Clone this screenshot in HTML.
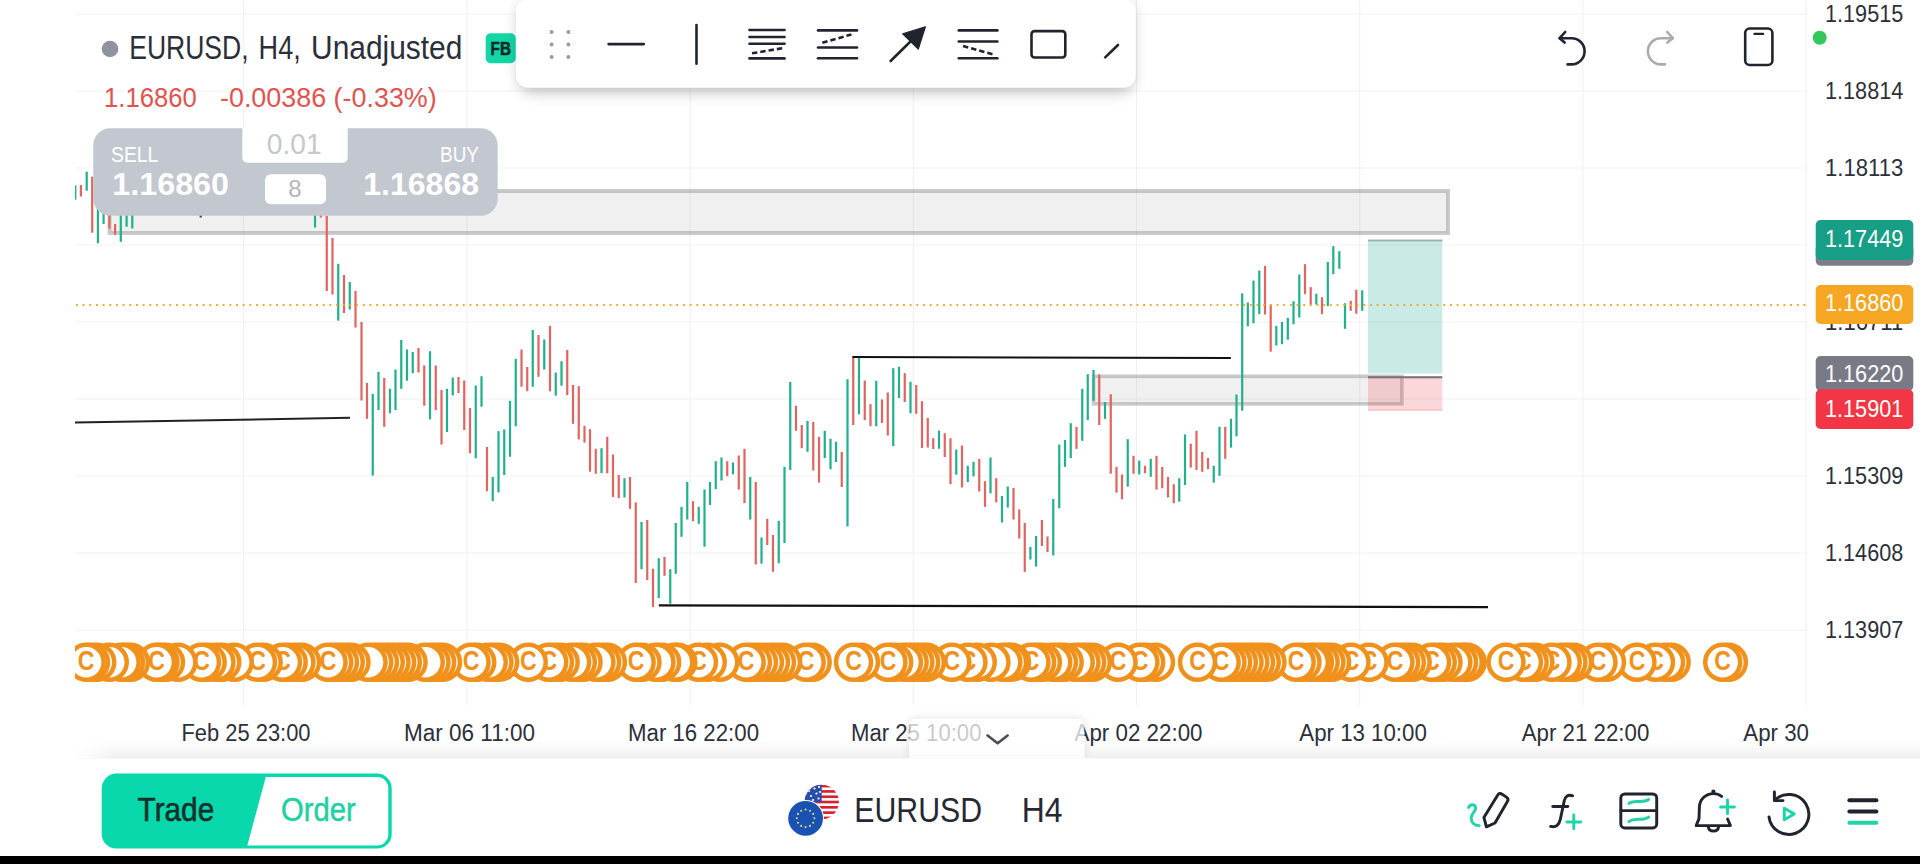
<!DOCTYPE html>
<html><head><meta charset="utf-8"><title>EURUSD H4</title>
<style>html,body{margin:0;padding:0;background:#fff;}body{width:1920px;height:864px;overflow:hidden;position:relative;font-family:"Liberation Sans", sans-serif;}svg{position:absolute;left:0;top:0;display:block;}text{font-family:"Liberation Sans", sans-serif;}</style>
</head><body>
<svg width="1920" height="864" viewBox="0 0 1920 864">
<defs>
<clipPath id="chartclip"><rect x="75" y="0" width="1732" height="705"/></clipPath>
<clipPath id="coinclip"><rect x="75" y="630" width="1732" height="70"/></clipPath>
<linearGradient id="botshadow" x1="0" y1="0" x2="0" y2="1"><stop offset="0" stop-color="#000" stop-opacity="0"/><stop offset="1" stop-color="#000" stop-opacity="0.06"/></linearGradient>
<linearGradient id="leftfade" x1="0" y1="0" x2="1" y2="0"><stop offset="0" stop-color="#fff" stop-opacity="1"/><stop offset="1" stop-color="#fff" stop-opacity="0"/></linearGradient>
<filter id="tbshadow" x="-5%" y="-30%" width="110%" height="180%"><feGaussianBlur stdDeviation="7"/></filter>
<clipPath id="usclip"><circle cx="821.7" cy="802" r="17.2"/></clipPath>
<filter id="tabshadow" x="-10%" y="-40%" width="120%" height="180%"><feGaussianBlur stdDeviation="4"/></filter>
<clipPath id="tabout"><path clip-rule="evenodd" d="M880 700 H1115 V758.5 H880 Z M909.3 758.5 V724.8 a6 6 0 0 1 6 -6 H1078.4 a6 6 0 0 1 6 6 V758.5 Z"/></clipPath>
</defs>
<g stroke="#f1f1f1" stroke-width="1.1">
<line x1="75" y1="14" x2="1807" y2="14"/>
<line x1="75" y1="91" x2="1807" y2="91"/>
<line x1="75" y1="168" x2="1807" y2="168"/>
<line x1="75" y1="245" x2="1807" y2="245"/>
<line x1="75" y1="322" x2="1807" y2="322"/>
<line x1="75" y1="399" x2="1807" y2="399"/>
<line x1="75" y1="476" x2="1807" y2="476"/>
<line x1="75" y1="553" x2="1807" y2="553"/>
<line x1="75" y1="630" x2="1807" y2="630"/>
<line x1="243.7" y1="0" x2="243.7" y2="705"/>
<line x1="466.9" y1="0" x2="466.9" y2="705"/>
<line x1="690.1" y1="0" x2="690.1" y2="705"/>
<line x1="913.3" y1="0" x2="913.3" y2="705"/>
<line x1="1136.5" y1="0" x2="1136.5" y2="705"/>
<line x1="1359.7" y1="0" x2="1359.7" y2="705"/>
<line x1="1582.9" y1="0" x2="1582.9" y2="705"/>
<line x1="1806.1" y1="0" x2="1806.1" y2="705"/>
</g>
<g clip-path="url(#chartclip)">
<rect x="109.5" y="191" width="1338.5" height="42" fill="#9a9a9a" fill-opacity="0.15" stroke="#8c8c8c" stroke-opacity="0.45" stroke-width="4"/>
<rect x="1093.5" y="376.3" width="308.4" height="27.6" fill="#9a9a9a" fill-opacity="0.15" stroke="#8c8c8c" stroke-opacity="0.45" stroke-width="3.6"/>
<rect x="1368" y="240" width="74.3" height="133.5" fill="#22ab94" fill-opacity="0.24"/>
<rect x="1368" y="239.5" width="74.3" height="2" fill="#8fa5a2" fill-opacity="0.8"/>
<rect x="1368" y="378" width="74.3" height="32.8" fill="#f23645" fill-opacity="0.2"/>
<rect x="1368" y="409" width="74.3" height="1.8" fill="#f23645" fill-opacity="0.12"/>
<rect x="1368" y="376.2" width="74.3" height="2.1" fill="#7a7077"/>
<rect x="74.20" y="185.5" width="2.2" height="14.1" fill="#20b08c"/>
<rect x="79.80" y="185.0" width="2.2" height="11.5" fill="#e0645f"/>
<rect x="85.60" y="171.7" width="2.2" height="19.0" fill="#20b08c"/>
<rect x="91.10" y="176.7" width="2.2" height="56.0" fill="#e0645f"/>
<rect x="96.80" y="200.0" width="2.2" height="43.3" fill="#20b08c"/>
<rect x="102.50" y="200.0" width="2.2" height="24.0" fill="#20b08c"/>
<rect x="108.30" y="200.0" width="2.2" height="28.5" fill="#e0645f"/>
<rect x="114.00" y="224.0" width="2.2" height="10.8" fill="#e0645f"/>
<rect x="119.70" y="200.0" width="2.2" height="41.8" fill="#20b08c"/>
<rect x="125.50" y="200.0" width="2.2" height="26.7" fill="#20b08c"/>
<rect x="131.20" y="200.0" width="2.2" height="28.5" fill="#20b08c"/>
<rect x="199.60" y="214.0" width="2.2" height="3.5" fill="#444"/>
<rect x="313.90" y="200.0" width="2.2" height="27.5" fill="#20b08c"/>
<rect x="319.70" y="200.0" width="2.2" height="17.5" fill="#e0645f"/>
<rect x="325.65" y="216.0" width="2.2" height="75.0" fill="#e0645f"/>
<rect x="331.40" y="238.0" width="2.2" height="56.5" fill="#e0645f"/>
<rect x="337.15" y="263.8" width="2.2" height="56.8" fill="#20b08c"/>
<rect x="342.90" y="275.0" width="2.2" height="38.0" fill="#e0645f"/>
<rect x="348.65" y="282.0" width="2.2" height="27.5" fill="#20b08c"/>
<rect x="354.40" y="291.0" width="2.2" height="36.5" fill="#e0645f"/>
<rect x="360.40" y="322.0" width="2.2" height="78.5" fill="#e0645f"/>
<rect x="365.90" y="383.0" width="2.2" height="35.8" fill="#e0645f"/>
<rect x="371.65" y="393.8" width="2.2" height="81.8" fill="#20b08c"/>
<rect x="377.40" y="371.8" width="2.2" height="38.2" fill="#20b08c"/>
<rect x="383.15" y="378.0" width="2.2" height="48.8" fill="#e0645f"/>
<rect x="388.90" y="388.8" width="2.2" height="24.5" fill="#20b08c"/>
<rect x="394.40" y="369.5" width="2.2" height="40.5" fill="#20b08c"/>
<rect x="400.15" y="340.0" width="2.2" height="48.8" fill="#20b08c"/>
<rect x="405.90" y="349.5" width="2.2" height="31.2" fill="#20b08c"/>
<rect x="411.65" y="352.0" width="2.2" height="21.2" fill="#20b08c"/>
<rect x="417.40" y="348.0" width="2.2" height="24.5" fill="#e0645f"/>
<rect x="423.15" y="365.5" width="2.2" height="40.2" fill="#e0645f"/>
<rect x="428.90" y="351.2" width="2.2" height="68.2" fill="#20b08c"/>
<rect x="434.65" y="365.5" width="2.2" height="44.5" fill="#e0645f"/>
<rect x="440.40" y="390.0" width="2.2" height="54.5" fill="#e0645f"/>
<rect x="445.90" y="388.8" width="2.2" height="43.2" fill="#20b08c"/>
<rect x="451.65" y="377.5" width="2.2" height="18.0" fill="#20b08c"/>
<rect x="457.40" y="377.0" width="2.2" height="16.0" fill="#e0645f"/>
<rect x="463.15" y="380.5" width="2.2" height="49.5" fill="#e0645f"/>
<rect x="468.90" y="408.0" width="2.2" height="45.2" fill="#e0645f"/>
<rect x="474.65" y="385.5" width="2.2" height="72.8" fill="#20b08c"/>
<rect x="480.40" y="376.2" width="2.2" height="30.5" fill="#20b08c"/>
<rect x="485.90" y="447.0" width="2.2" height="44.2" fill="#e0645f"/>
<rect x="491.65" y="477.0" width="2.2" height="24.2" fill="#20b08c"/>
<rect x="497.40" y="431.2" width="2.2" height="61.2" fill="#20b08c"/>
<rect x="503.15" y="429.5" width="2.2" height="45.5" fill="#20b08c"/>
<rect x="508.90" y="400.8" width="2.2" height="56.0" fill="#20b08c"/>
<rect x="514.65" y="358.8" width="2.2" height="67.5" fill="#20b08c"/>
<rect x="520.40" y="349.5" width="2.2" height="37.2" fill="#e0645f"/>
<rect x="526.15" y="367.0" width="2.2" height="24.2" fill="#e0645f"/>
<rect x="531.65" y="330.0" width="2.2" height="56.8" fill="#20b08c"/>
<rect x="537.40" y="335.0" width="2.2" height="41.8" fill="#e0645f"/>
<rect x="543.15" y="339.5" width="2.2" height="30.0" fill="#20b08c"/>
<rect x="548.90" y="325.8" width="2.2" height="65.5" fill="#e0645f"/>
<rect x="554.65" y="372.5" width="2.2" height="23.2" fill="#20b08c"/>
<rect x="560.40" y="361.2" width="2.2" height="24.5" fill="#20b08c"/>
<rect x="566.15" y="350.0" width="2.2" height="45.0" fill="#e0645f"/>
<rect x="571.90" y="385.0" width="2.2" height="38.8" fill="#e0645f"/>
<rect x="577.65" y="386.2" width="2.2" height="53.2" fill="#e0645f"/>
<rect x="583.40" y="425.8" width="2.2" height="16.8" fill="#e0645f"/>
<rect x="588.90" y="429.2" width="2.2" height="42.5" fill="#e0645f"/>
<rect x="594.65" y="448.8" width="2.2" height="25.0" fill="#e0645f"/>
<rect x="600.40" y="448.2" width="2.2" height="25.0" fill="#20b08c"/>
<rect x="606.15" y="436.8" width="2.2" height="36.5" fill="#e0645f"/>
<rect x="611.90" y="454.5" width="2.2" height="42.5" fill="#e0645f"/>
<rect x="617.65" y="475.0" width="2.2" height="23.2" fill="#e0645f"/>
<rect x="623.40" y="478.2" width="2.2" height="19.2" fill="#20b08c"/>
<rect x="628.90" y="477.0" width="2.2" height="31.8" fill="#e0645f"/>
<rect x="634.65" y="502.5" width="2.2" height="80.5" fill="#e0645f"/>
<rect x="640.40" y="522.0" width="2.2" height="47.2" fill="#20b08c"/>
<rect x="646.15" y="520.0" width="2.2" height="60.0" fill="#e0645f"/>
<rect x="651.90" y="568.8" width="2.2" height="38.2" fill="#e0645f"/>
<rect x="657.65" y="558.2" width="2.2" height="40.0" fill="#20b08c"/>
<rect x="663.40" y="557.0" width="2.2" height="18.8" fill="#e0645f"/>
<rect x="669.15" y="569.2" width="2.2" height="34.5" fill="#20b08c"/>
<rect x="674.65" y="523.0" width="2.2" height="50.8" fill="#20b08c"/>
<rect x="680.40" y="507.0" width="2.2" height="29.8" fill="#20b08c"/>
<rect x="686.15" y="482.0" width="2.2" height="37.5" fill="#20b08c"/>
<rect x="691.90" y="501.2" width="2.2" height="20.0" fill="#e0645f"/>
<rect x="697.65" y="506.8" width="2.2" height="17.0" fill="#20b08c"/>
<rect x="703.40" y="489.5" width="2.2" height="57.2" fill="#20b08c"/>
<rect x="708.90" y="482.0" width="2.2" height="23.0" fill="#20b08c"/>
<rect x="714.65" y="461.2" width="2.2" height="28.0" fill="#20b08c"/>
<rect x="720.40" y="457.5" width="2.2" height="23.0" fill="#20b08c"/>
<rect x="726.15" y="461.2" width="2.2" height="15.0" fill="#e0645f"/>
<rect x="731.90" y="462.5" width="2.2" height="11.8" fill="#20b08c"/>
<rect x="737.65" y="455.5" width="2.2" height="34.0" fill="#e0645f"/>
<rect x="743.40" y="448.8" width="2.2" height="54.2" fill="#e0645f"/>
<rect x="749.15" y="477.0" width="2.2" height="42.5" fill="#20b08c"/>
<rect x="754.65" y="482.0" width="2.2" height="82.5" fill="#e0645f"/>
<rect x="760.40" y="537.5" width="2.2" height="26.2" fill="#20b08c"/>
<rect x="766.15" y="518.8" width="2.2" height="26.2" fill="#e0645f"/>
<rect x="771.90" y="535.0" width="2.2" height="36.8" fill="#e0645f"/>
<rect x="777.65" y="520.8" width="2.2" height="42.5" fill="#20b08c"/>
<rect x="783.40" y="466.8" width="2.2" height="76.2" fill="#20b08c"/>
<rect x="789.15" y="382.0" width="2.2" height="88.0" fill="#20b08c"/>
<rect x="794.90" y="405.8" width="2.2" height="25.0" fill="#e0645f"/>
<rect x="800.65" y="425.0" width="2.2" height="23.2" fill="#e0645f"/>
<rect x="806.40" y="421.0" width="2.2" height="30.8" fill="#20b08c"/>
<rect x="812.15" y="422.0" width="2.2" height="48.5" fill="#e0645f"/>
<rect x="817.90" y="436.8" width="2.2" height="45.8" fill="#e0645f"/>
<rect x="823.65" y="430.8" width="2.2" height="27.2" fill="#20b08c"/>
<rect x="829.40" y="438.8" width="2.2" height="30.5" fill="#20b08c"/>
<rect x="834.90" y="441.8" width="2.2" height="20.2" fill="#20b08c"/>
<rect x="840.65" y="452.0" width="2.2" height="35.0" fill="#e0645f"/>
<rect x="846.40" y="379.2" width="2.2" height="147.2" fill="#20b08c"/>
<rect x="852.15" y="356.2" width="2.2" height="68.8" fill="#e0645f"/>
<rect x="857.90" y="357.5" width="2.2" height="56.8" fill="#20b08c"/>
<rect x="863.65" y="380.5" width="2.2" height="39.5" fill="#e0645f"/>
<rect x="869.40" y="404.2" width="2.2" height="22.0" fill="#e0645f"/>
<rect x="875.15" y="380.8" width="2.2" height="45.5" fill="#20b08c"/>
<rect x="880.90" y="399.5" width="2.2" height="23.5" fill="#e0645f"/>
<rect x="886.65" y="392.5" width="2.2" height="43.0" fill="#e0645f"/>
<rect x="892.15" y="368.2" width="2.2" height="78.0" fill="#20b08c"/>
<rect x="897.90" y="366.8" width="2.2" height="31.2" fill="#20b08c"/>
<rect x="903.65" y="373.2" width="2.2" height="28.8" fill="#e0645f"/>
<rect x="909.40" y="381.8" width="2.2" height="31.5" fill="#20b08c"/>
<rect x="915.15" y="385.0" width="2.2" height="28.8" fill="#e0645f"/>
<rect x="920.90" y="401.2" width="2.2" height="46.8" fill="#e0645f"/>
<rect x="926.65" y="418.0" width="2.2" height="29.5" fill="#e0645f"/>
<rect x="932.15" y="438.2" width="2.2" height="10.8" fill="#e0645f"/>
<rect x="937.90" y="430.5" width="2.2" height="18.2" fill="#20b08c"/>
<rect x="943.65" y="433.2" width="2.2" height="23.8" fill="#e0645f"/>
<rect x="949.40" y="438.2" width="2.2" height="46.0" fill="#e0645f"/>
<rect x="955.15" y="449.5" width="2.2" height="25.2" fill="#20b08c"/>
<rect x="960.90" y="445.5" width="2.2" height="42.0" fill="#e0645f"/>
<rect x="966.65" y="465.8" width="2.2" height="16.2" fill="#20b08c"/>
<rect x="972.40" y="461.8" width="2.2" height="14.5" fill="#20b08c"/>
<rect x="978.15" y="459.0" width="2.2" height="32.5" fill="#e0645f"/>
<rect x="983.90" y="481.2" width="2.2" height="25.6" fill="#e0645f"/>
<rect x="989.40" y="457.5" width="2.2" height="35.8" fill="#20b08c"/>
<rect x="995.15" y="478.2" width="2.2" height="24.2" fill="#e0645f"/>
<rect x="1000.90" y="496.0" width="2.2" height="26.5" fill="#20b08c"/>
<rect x="1006.65" y="486.5" width="2.2" height="21.0" fill="#20b08c"/>
<rect x="1012.40" y="488.0" width="2.2" height="31.5" fill="#e0645f"/>
<rect x="1018.15" y="509.5" width="2.2" height="29.0" fill="#e0645f"/>
<rect x="1023.65" y="523.0" width="2.2" height="48.8" fill="#e0645f"/>
<rect x="1029.30" y="547.0" width="2.2" height="12.5" fill="#20b08c"/>
<rect x="1035.00" y="536.0" width="2.2" height="30.5" fill="#20b08c"/>
<rect x="1040.80" y="520.0" width="2.2" height="26.0" fill="#e0645f"/>
<rect x="1046.40" y="536.5" width="2.2" height="15.5" fill="#e0645f"/>
<rect x="1052.15" y="499.0" width="2.2" height="56.5" fill="#20b08c"/>
<rect x="1058.15" y="444.5" width="2.2" height="63.8" fill="#20b08c"/>
<rect x="1063.90" y="440.0" width="2.2" height="26.8" fill="#20b08c"/>
<rect x="1069.65" y="423.2" width="2.2" height="34.8" fill="#20b08c"/>
<rect x="1075.40" y="427.0" width="2.2" height="21.8" fill="#e0645f"/>
<rect x="1081.15" y="388.8" width="2.2" height="52.0" fill="#20b08c"/>
<rect x="1086.65" y="374.2" width="2.2" height="45.8" fill="#20b08c"/>
<rect x="1092.40" y="370.0" width="2.2" height="30.8" fill="#20b08c"/>
<rect x="1098.15" y="374.5" width="2.2" height="50.5" fill="#e0645f"/>
<rect x="1103.90" y="402.0" width="2.2" height="16.8" fill="#20b08c"/>
<rect x="1109.65" y="394.2" width="2.2" height="79.5" fill="#e0645f"/>
<rect x="1115.40" y="466.8" width="2.2" height="25.8" fill="#e0645f"/>
<rect x="1120.90" y="474.5" width="2.2" height="24.8" fill="#e0645f"/>
<rect x="1126.65" y="439.2" width="2.2" height="47.5" fill="#20b08c"/>
<rect x="1132.40" y="455.8" width="2.2" height="18.0" fill="#e0645f"/>
<rect x="1138.15" y="460.5" width="2.2" height="14.0" fill="#20b08c"/>
<rect x="1143.90" y="465.8" width="2.2" height="7.5" fill="#e0645f"/>
<rect x="1149.65" y="458.8" width="2.2" height="18.0" fill="#20b08c"/>
<rect x="1155.40" y="455.8" width="2.2" height="33.8" fill="#e0645f"/>
<rect x="1161.15" y="467.0" width="2.2" height="21.2" fill="#e0645f"/>
<rect x="1166.90" y="477.0" width="2.2" height="20.5" fill="#e0645f"/>
<rect x="1172.65" y="484.2" width="2.2" height="19.0" fill="#e0645f"/>
<rect x="1178.15" y="478.2" width="2.2" height="23.5" fill="#20b08c"/>
<rect x="1183.90" y="434.5" width="2.2" height="50.5" fill="#20b08c"/>
<rect x="1189.65" y="443.8" width="2.2" height="23.8" fill="#e0645f"/>
<rect x="1195.40" y="430.8" width="2.2" height="39.2" fill="#e0645f"/>
<rect x="1201.15" y="452.0" width="2.2" height="19.8" fill="#e0645f"/>
<rect x="1206.90" y="458.0" width="2.2" height="11.2" fill="#e0645f"/>
<rect x="1212.65" y="465.8" width="2.2" height="16.8" fill="#20b08c"/>
<rect x="1218.40" y="426.8" width="2.2" height="49.0" fill="#20b08c"/>
<rect x="1224.15" y="426.8" width="2.2" height="32.0" fill="#e0645f"/>
<rect x="1229.90" y="418.8" width="2.2" height="28.8" fill="#20b08c"/>
<rect x="1235.40" y="394.5" width="2.2" height="41.8" fill="#20b08c"/>
<rect x="1241.10" y="293.3" width="2.2" height="117.4" fill="#20b08c"/>
<rect x="1246.70" y="302.5" width="2.2" height="23.8" fill="#20b08c"/>
<rect x="1252.40" y="280.5" width="2.2" height="42.8" fill="#20b08c"/>
<rect x="1258.20" y="270.5" width="2.2" height="43.7" fill="#20b08c"/>
<rect x="1263.90" y="265.8" width="2.2" height="48.7" fill="#e0645f"/>
<rect x="1269.60" y="304.5" width="2.2" height="47.2" fill="#e0645f"/>
<rect x="1275.20" y="325.8" width="2.2" height="19.7" fill="#20b08c"/>
<rect x="1280.90" y="322.0" width="2.2" height="22.2" fill="#20b08c"/>
<rect x="1286.70" y="317.8" width="2.2" height="21.9" fill="#20b08c"/>
<rect x="1292.40" y="301.2" width="2.2" height="23.0" fill="#20b08c"/>
<rect x="1298.20" y="274.5" width="2.2" height="43.0" fill="#20b08c"/>
<rect x="1303.90" y="264.2" width="2.2" height="30.0" fill="#e0645f"/>
<rect x="1309.60" y="287.2" width="2.2" height="17.8" fill="#e0645f"/>
<rect x="1315.20" y="293.7" width="2.2" height="10.8" fill="#20b08c"/>
<rect x="1320.90" y="297.2" width="2.2" height="17.0" fill="#e0645f"/>
<rect x="1326.70" y="262.0" width="2.2" height="44.2" fill="#20b08c"/>
<rect x="1332.20" y="246.2" width="2.2" height="28.0" fill="#20b08c"/>
<rect x="1338.20" y="251.2" width="2.2" height="17.6" fill="#20b08c"/>
<rect x="1343.90" y="303.3" width="2.2" height="25.5" fill="#20b08c"/>
<rect x="1349.60" y="300.8" width="2.2" height="10.0" fill="#e0645f"/>
<rect x="1355.20" y="289.7" width="2.2" height="24.0" fill="#e0645f"/>
<rect x="1361.10" y="290.3" width="2.2" height="20.5" fill="#20b08c"/>
<line x1="75" y1="422.5" x2="350" y2="417.8" stroke="#222" stroke-width="2"/>
<line x1="852.5" y1="356.9" x2="1230.8" y2="358" stroke="#111" stroke-width="2"/>
<line x1="658.8" y1="605.3" x2="1488" y2="607.2" stroke="#111" stroke-width="2.2"/>
<line x1="76" y1="305" x2="1807" y2="305" stroke="#f5a623" stroke-width="1.8" stroke-dasharray="1.8 4.87" />
</g>
<g clip-path="url(#coinclip)">
<g transform="translate(1728.4,662.2)"><circle r="17.45" fill="#fff" stroke="#f0911c" stroke-width="4.5"/></g>
<g transform="translate(1722.7,662.2)"><circle r="17.45" fill="#fff" stroke="#f0911c" stroke-width="4.5"/><text transform="translate(0,7.6) scale(0.84,1)" font-size="27.5" font-weight="bold" fill="#f0911c" text-anchor="middle">C</text></g>
<g transform="translate(1671.2,662.2)"><circle r="17.45" fill="#fff" stroke="#f0911c" stroke-width="4.5"/></g>
<g transform="translate(1665.6,662.2)"><circle r="17.45" fill="#fff" stroke="#f0911c" stroke-width="4.5"/></g>
<g transform="translate(1655.5,662.2)"><circle r="17.45" fill="#fff" stroke="#f0911c" stroke-width="4.5"/><text transform="translate(0,7.6) scale(0.84,1)" font-size="27.5" font-weight="bold" fill="#f0911c" text-anchor="middle">C</text></g>
<g transform="translate(1637.0,662.2)"><circle r="17.45" fill="#fff" stroke="#f0911c" stroke-width="4.5"/><text transform="translate(0,7.6) scale(0.84,1)" font-size="27.5" font-weight="bold" fill="#f0911c" text-anchor="middle">C</text></g>
<g transform="translate(1606.5,662.2)"><circle r="17.45" fill="#fff" stroke="#f0911c" stroke-width="4.5"/></g>
<g transform="translate(1598.0,662.2)"><circle r="17.45" fill="#fff" stroke="#f0911c" stroke-width="4.5"/><text transform="translate(0,7.6) scale(0.84,1)" font-size="27.5" font-weight="bold" fill="#f0911c" text-anchor="middle">C</text></g>
<g transform="translate(1573.7,662.2)"><circle r="17.45" fill="#fff" stroke="#f0911c" stroke-width="4.5"/></g>
<g transform="translate(1568.0,662.2)"><circle r="17.45" fill="#fff" stroke="#f0911c" stroke-width="4.5"/></g>
<g transform="translate(1562.3,662.2)"><circle r="17.45" fill="#fff" stroke="#f0911c" stroke-width="4.5"/></g>
<g transform="translate(1552.0,662.2)"><circle r="17.45" fill="#fff" stroke="#f0911c" stroke-width="4.5"/><text transform="translate(0,7.6) scale(0.84,1)" font-size="27.5" font-weight="bold" fill="#f0911c" text-anchor="middle">C</text></g>
<g transform="translate(1534.9,662.2)"><circle r="17.45" fill="#fff" stroke="#f0911c" stroke-width="4.5"/></g>
<g transform="translate(1529.2,662.2)"><circle r="17.45" fill="#fff" stroke="#f0911c" stroke-width="4.5"/></g>
<g transform="translate(1523.5,662.2)"><circle r="17.45" fill="#fff" stroke="#f0911c" stroke-width="4.5"/><text transform="translate(0,7.6) scale(0.84,1)" font-size="27.5" font-weight="bold" fill="#f0911c" text-anchor="middle">C</text></g>
<g transform="translate(1506.0,662.2)"><circle r="17.45" fill="#fff" stroke="#f0911c" stroke-width="4.5"/><text transform="translate(0,7.6) scale(0.84,1)" font-size="27.5" font-weight="bold" fill="#f0911c" text-anchor="middle">C</text></g>
<g transform="translate(1467.2,662.2)"><circle r="17.45" fill="#fff" stroke="#f0911c" stroke-width="4.5"/></g>
<g transform="translate(1464.3,662.2)"><circle r="17.45" fill="#fff" stroke="#f0911c" stroke-width="4.5"/></g>
<g transform="translate(1458.6,662.2)"><circle r="17.45" fill="#fff" stroke="#f0911c" stroke-width="4.5"/></g>
<g transform="translate(1452.9,662.2)"><circle r="17.45" fill="#fff" stroke="#f0911c" stroke-width="4.5"/></g>
<g transform="translate(1443.0,662.2)"><circle r="17.45" fill="#fff" stroke="#f0911c" stroke-width="4.5"/></g>
<g transform="translate(1437.3,662.2)"><circle r="17.45" fill="#fff" stroke="#f0911c" stroke-width="4.5"/></g>
<g transform="translate(1431.6,662.2)"><circle r="17.45" fill="#fff" stroke="#f0911c" stroke-width="4.5"/><text transform="translate(0,7.6) scale(0.84,1)" font-size="27.5" font-weight="bold" fill="#f0911c" text-anchor="middle">C</text></g>
<g transform="translate(1412.2,662.2)"><circle r="17.45" fill="#fff" stroke="#f0911c" stroke-width="4.5"/></g>
<g transform="translate(1406.4,662.2)"><circle r="17.45" fill="#fff" stroke="#f0911c" stroke-width="4.5"/></g>
<g transform="translate(1400.7,662.2)"><circle r="17.45" fill="#fff" stroke="#f0911c" stroke-width="4.5"/></g>
<g transform="translate(1395.0,662.2)"><circle r="17.45" fill="#fff" stroke="#f0911c" stroke-width="4.5"/><text transform="translate(0,7.6) scale(0.84,1)" font-size="27.5" font-weight="bold" fill="#f0911c" text-anchor="middle">C</text></g>
<g transform="translate(1369.1,662.2)"><circle r="17.45" fill="#fff" stroke="#f0911c" stroke-width="4.5"/><text transform="translate(0,7.6) scale(0.84,1)" font-size="27.5" font-weight="bold" fill="#f0911c" text-anchor="middle">C</text></g>
<g transform="translate(1351.0,662.2)"><circle r="17.45" fill="#fff" stroke="#f0911c" stroke-width="4.5"/><text transform="translate(0,7.6) scale(0.84,1)" font-size="27.5" font-weight="bold" fill="#f0911c" text-anchor="middle">C</text></g>
<g transform="translate(1331.6,662.2)"><circle r="17.45" fill="#fff" stroke="#f0911c" stroke-width="4.5"/></g>
<g transform="translate(1325.9,662.2)"><circle r="17.45" fill="#fff" stroke="#f0911c" stroke-width="4.5"/></g>
<g transform="translate(1320.2,662.2)"><circle r="17.45" fill="#fff" stroke="#f0911c" stroke-width="4.5"/></g>
<g transform="translate(1314.5,662.2)"><circle r="17.45" fill="#fff" stroke="#f0911c" stroke-width="4.5"/></g>
<g transform="translate(1310.4,662.2)"><circle r="17.45" fill="#fff" stroke="#f0911c" stroke-width="4.5"/></g>
<g transform="translate(1302.0,662.2)"><circle r="17.45" fill="#fff" stroke="#f0911c" stroke-width="4.5"/></g>
<g transform="translate(1296.2,662.2)"><circle r="17.45" fill="#fff" stroke="#f0911c" stroke-width="4.5"/><text transform="translate(0,7.6) scale(0.84,1)" font-size="27.5" font-weight="bold" fill="#f0911c" text-anchor="middle">C</text></g>
<g transform="translate(1267.0,662.2)"><circle r="17.45" fill="#fff" stroke="#f0911c" stroke-width="4.5"/></g>
<g transform="translate(1261.3,662.2)"><circle r="17.45" fill="#fff" stroke="#f0911c" stroke-width="4.5"/></g>
<g transform="translate(1255.6,662.2)"><circle r="17.45" fill="#fff" stroke="#f0911c" stroke-width="4.5"/></g>
<g transform="translate(1249.9,662.2)"><circle r="17.45" fill="#fff" stroke="#f0911c" stroke-width="4.5"/></g>
<g transform="translate(1244.1,662.2)"><circle r="17.45" fill="#fff" stroke="#f0911c" stroke-width="4.5"/></g>
<g transform="translate(1238.4,662.2)"><circle r="17.45" fill="#fff" stroke="#f0911c" stroke-width="4.5"/></g>
<g transform="translate(1232.7,662.2)"><circle r="17.45" fill="#fff" stroke="#f0911c" stroke-width="4.5"/></g>
<g transform="translate(1227.0,662.2)"><circle r="17.45" fill="#fff" stroke="#f0911c" stroke-width="4.5"/></g>
<g transform="translate(1221.2,662.2)"><circle r="17.45" fill="#fff" stroke="#f0911c" stroke-width="4.5"/><text transform="translate(0,7.6) scale(0.84,1)" font-size="27.5" font-weight="bold" fill="#f0911c" text-anchor="middle">C</text></g>
<g transform="translate(1197.5,662.2)"><circle r="17.45" fill="#fff" stroke="#f0911c" stroke-width="4.5"/><text transform="translate(0,7.6) scale(0.84,1)" font-size="27.5" font-weight="bold" fill="#f0911c" text-anchor="middle">C</text></g>
<g transform="translate(1155.5,662.2)"><circle r="17.45" fill="#fff" stroke="#f0911c" stroke-width="4.5"/></g>
<g transform="translate(1145.7,662.2)"><circle r="17.45" fill="#fff" stroke="#f0911c" stroke-width="4.5"/></g>
<g transform="translate(1140.0,662.2)"><circle r="17.45" fill="#fff" stroke="#f0911c" stroke-width="4.5"/><text transform="translate(0,7.6) scale(0.84,1)" font-size="27.5" font-weight="bold" fill="#f0911c" text-anchor="middle">C</text></g>
<g transform="translate(1118.1,662.2)"><circle r="17.45" fill="#fff" stroke="#f0911c" stroke-width="4.5"/><text transform="translate(0,7.6) scale(0.84,1)" font-size="27.5" font-weight="bold" fill="#f0911c" text-anchor="middle">C</text></g>
<g transform="translate(1092.4,662.2)"><circle r="17.45" fill="#fff" stroke="#f0911c" stroke-width="4.5"/></g>
<g transform="translate(1086.7,662.2)"><circle r="17.45" fill="#fff" stroke="#f0911c" stroke-width="4.5"/></g>
<g transform="translate(1081.0,662.2)"><circle r="17.45" fill="#fff" stroke="#f0911c" stroke-width="4.5"/></g>
<g transform="translate(1075.3,662.2)"><circle r="17.45" fill="#fff" stroke="#f0911c" stroke-width="4.5"/></g>
<g transform="translate(1064.2,662.2)"><circle r="17.45" fill="#fff" stroke="#f0911c" stroke-width="4.5"/></g>
<g transform="translate(1058.5,662.2)"><circle r="17.45" fill="#fff" stroke="#f0911c" stroke-width="4.5"/></g>
<g transform="translate(1052.8,662.2)"><circle r="17.45" fill="#fff" stroke="#f0911c" stroke-width="4.5"/></g>
<g transform="translate(1042.4,662.2)"><circle r="17.45" fill="#fff" stroke="#f0911c" stroke-width="4.5"/></g>
<g transform="translate(1036.7,662.2)"><circle r="17.45" fill="#fff" stroke="#f0911c" stroke-width="4.5"/></g>
<g transform="translate(1031.0,662.2)"><circle r="17.45" fill="#fff" stroke="#f0911c" stroke-width="4.5"/><text transform="translate(0,7.6) scale(0.84,1)" font-size="27.5" font-weight="bold" fill="#f0911c" text-anchor="middle">C</text></g>
<g transform="translate(1011.5,662.2)"><circle r="17.45" fill="#fff" stroke="#f0911c" stroke-width="4.5"/></g>
<g transform="translate(1008.6,662.2)"><circle r="17.45" fill="#fff" stroke="#f0911c" stroke-width="4.5"/></g>
<g transform="translate(1002.9,662.2)"><circle r="17.45" fill="#fff" stroke="#f0911c" stroke-width="4.5"/></g>
<g transform="translate(991.0,662.2)"><circle r="17.45" fill="#fff" stroke="#f0911c" stroke-width="4.5"/></g>
<g transform="translate(977.3,662.2)"><circle r="17.45" fill="#fff" stroke="#f0911c" stroke-width="4.5"/></g>
<g transform="translate(968.0,662.2)"><circle r="17.45" fill="#fff" stroke="#f0911c" stroke-width="4.5"/><text transform="translate(0,7.6) scale(0.84,1)" font-size="27.5" font-weight="bold" fill="#f0911c" text-anchor="middle">C</text></g>
<g transform="translate(951.9,662.2)"><circle r="17.45" fill="#fff" stroke="#f0911c" stroke-width="4.5"/><text transform="translate(0,7.6) scale(0.84,1)" font-size="27.5" font-weight="bold" fill="#f0911c" text-anchor="middle">C</text></g>
<g transform="translate(926.4,662.2)"><circle r="17.45" fill="#fff" stroke="#f0911c" stroke-width="4.5"/></g>
<g transform="translate(920.7,662.2)"><circle r="17.45" fill="#fff" stroke="#f0911c" stroke-width="4.5"/></g>
<g transform="translate(914.9,662.2)"><circle r="17.45" fill="#fff" stroke="#f0911c" stroke-width="4.5"/></g>
<g transform="translate(909.2,662.2)"><circle r="17.45" fill="#fff" stroke="#f0911c" stroke-width="4.5"/></g>
<g transform="translate(903.5,662.2)"><circle r="17.45" fill="#fff" stroke="#f0911c" stroke-width="4.5"/></g>
<g transform="translate(893.7,662.2)"><circle r="17.45" fill="#fff" stroke="#f0911c" stroke-width="4.5"/></g>
<g transform="translate(888.0,662.2)"><circle r="17.45" fill="#fff" stroke="#f0911c" stroke-width="4.5"/><text transform="translate(0,7.6) scale(0.84,1)" font-size="27.5" font-weight="bold" fill="#f0911c" text-anchor="middle">C</text></g>
<g transform="translate(860.5,662.2)"><circle r="17.45" fill="#fff" stroke="#f0911c" stroke-width="4.5"/></g>
<g transform="translate(853.5,662.2)"><circle r="17.45" fill="#fff" stroke="#f0911c" stroke-width="4.5"/><text transform="translate(0,7.6) scale(0.84,1)" font-size="27.5" font-weight="bold" fill="#f0911c" text-anchor="middle">C</text></g>
<g transform="translate(812.2,662.2)"><circle r="17.45" fill="#fff" stroke="#f0911c" stroke-width="4.5"/></g>
<g transform="translate(806.2,662.2)"><circle r="17.45" fill="#fff" stroke="#f0911c" stroke-width="4.5"/><text transform="translate(0,7.6) scale(0.84,1)" font-size="27.5" font-weight="bold" fill="#f0911c" text-anchor="middle">C</text></g>
<g transform="translate(782.5,662.2)"><circle r="17.45" fill="#fff" stroke="#f0911c" stroke-width="4.5"/></g>
<g transform="translate(776.5,662.2)"><circle r="17.45" fill="#fff" stroke="#f0911c" stroke-width="4.5"/></g>
<g transform="translate(770.5,662.2)"><circle r="17.45" fill="#fff" stroke="#f0911c" stroke-width="4.5"/></g>
<g transform="translate(764.5,662.2)"><circle r="17.45" fill="#fff" stroke="#f0911c" stroke-width="4.5"/></g>
<g transform="translate(758.5,662.2)"><circle r="17.45" fill="#fff" stroke="#f0911c" stroke-width="4.5"/></g>
<g transform="translate(752.5,662.2)"><circle r="17.45" fill="#fff" stroke="#f0911c" stroke-width="4.5"/></g>
<g transform="translate(746.2,662.2)"><circle r="17.45" fill="#fff" stroke="#f0911c" stroke-width="4.5"/><text transform="translate(0,7.6) scale(0.84,1)" font-size="27.5" font-weight="bold" fill="#f0911c" text-anchor="middle">C</text></g>
<g transform="translate(719.8,662.2)"><circle r="17.45" fill="#fff" stroke="#f0911c" stroke-width="4.5"/></g>
<g transform="translate(707.3,662.2)"><circle r="17.45" fill="#fff" stroke="#f0911c" stroke-width="4.5"/></g>
<g transform="translate(698.5,662.2)"><circle r="17.45" fill="#fff" stroke="#f0911c" stroke-width="4.5"/><text transform="translate(0,7.6) scale(0.84,1)" font-size="27.5" font-weight="bold" fill="#f0911c" text-anchor="middle">C</text></g>
<g transform="translate(677.8,662.2)"><circle r="17.45" fill="#fff" stroke="#f0911c" stroke-width="4.5"/></g>
<g transform="translate(674.8,662.2)"><circle r="17.45" fill="#fff" stroke="#f0911c" stroke-width="4.5"/></g>
<g transform="translate(661.7,662.2)"><circle r="17.45" fill="#fff" stroke="#f0911c" stroke-width="4.5"/></g>
<g transform="translate(656.0,662.2)"><circle r="17.45" fill="#fff" stroke="#f0911c" stroke-width="4.5"/></g>
<g transform="translate(642.0,662.2)"><circle r="17.45" fill="#fff" stroke="#f0911c" stroke-width="4.5"/></g>
<g transform="translate(636.2,662.2)"><circle r="17.45" fill="#fff" stroke="#f0911c" stroke-width="4.5"/><text transform="translate(0,7.6) scale(0.84,1)" font-size="27.5" font-weight="bold" fill="#f0911c" text-anchor="middle">C</text></g>
<g transform="translate(607.4,662.2)"><circle r="17.45" fill="#fff" stroke="#f0911c" stroke-width="4.5"/></g>
<g transform="translate(601.7,662.2)"><circle r="17.45" fill="#fff" stroke="#f0911c" stroke-width="4.5"/></g>
<g transform="translate(596.0,662.2)"><circle r="17.45" fill="#fff" stroke="#f0911c" stroke-width="4.5"/></g>
<g transform="translate(583.1,662.2)"><circle r="17.45" fill="#fff" stroke="#f0911c" stroke-width="4.5"/></g>
<g transform="translate(577.4,662.2)"><circle r="17.45" fill="#fff" stroke="#f0911c" stroke-width="4.5"/></g>
<g transform="translate(571.7,662.2)"><circle r="17.45" fill="#fff" stroke="#f0911c" stroke-width="4.5"/></g>
<g transform="translate(560.2,662.2)"><circle r="17.45" fill="#fff" stroke="#f0911c" stroke-width="4.5"/></g>
<g transform="translate(554.5,662.2)"><circle r="17.45" fill="#fff" stroke="#f0911c" stroke-width="4.5"/></g>
<g transform="translate(548.8,662.2)"><circle r="17.45" fill="#fff" stroke="#f0911c" stroke-width="4.5"/><text transform="translate(0,7.6) scale(0.84,1)" font-size="27.5" font-weight="bold" fill="#f0911c" text-anchor="middle">C</text></g>
<g transform="translate(528.3,662.2)"><circle r="17.45" fill="#fff" stroke="#f0911c" stroke-width="4.5"/><text transform="translate(0,7.6) scale(0.84,1)" font-size="27.5" font-weight="bold" fill="#f0911c" text-anchor="middle">C</text></g>
<g transform="translate(499.7,662.2)"><circle r="17.45" fill="#fff" stroke="#f0911c" stroke-width="4.5"/></g>
<g transform="translate(494.0,662.2)"><circle r="17.45" fill="#fff" stroke="#f0911c" stroke-width="4.5"/></g>
<g transform="translate(488.3,662.2)"><circle r="17.45" fill="#fff" stroke="#f0911c" stroke-width="4.5"/></g>
<g transform="translate(476.8,662.2)"><circle r="17.45" fill="#fff" stroke="#f0911c" stroke-width="4.5"/></g>
<g transform="translate(471.1,662.2)"><circle r="17.45" fill="#fff" stroke="#f0911c" stroke-width="4.5"/><text transform="translate(0,7.6) scale(0.84,1)" font-size="27.5" font-weight="bold" fill="#f0911c" text-anchor="middle">C</text></g>
<g transform="translate(442.5,662.2)"><circle r="17.45" fill="#fff" stroke="#f0911c" stroke-width="4.5"/></g>
<g transform="translate(436.7,662.2)"><circle r="17.45" fill="#fff" stroke="#f0911c" stroke-width="4.5"/></g>
<g transform="translate(431.0,662.2)"><circle r="17.45" fill="#fff" stroke="#f0911c" stroke-width="4.5"/></g>
<g transform="translate(425.3,662.2)"><circle r="17.45" fill="#fff" stroke="#f0911c" stroke-width="4.5"/></g>
<g transform="translate(408.1,662.2)"><circle r="17.45" fill="#fff" stroke="#f0911c" stroke-width="4.5"/></g>
<g transform="translate(402.4,662.2)"><circle r="17.45" fill="#fff" stroke="#f0911c" stroke-width="4.5"/></g>
<g transform="translate(396.7,662.2)"><circle r="17.45" fill="#fff" stroke="#f0911c" stroke-width="4.5"/></g>
<g transform="translate(391.0,662.2)"><circle r="17.45" fill="#fff" stroke="#f0911c" stroke-width="4.5"/></g>
<g transform="translate(385.3,662.2)"><circle r="17.45" fill="#fff" stroke="#f0911c" stroke-width="4.5"/></g>
<g transform="translate(379.5,662.2)"><circle r="17.45" fill="#fff" stroke="#f0911c" stroke-width="4.5"/></g>
<g transform="translate(373.8,662.2)"><circle r="17.45" fill="#fff" stroke="#f0911c" stroke-width="4.5"/></g>
<g transform="translate(368.1,662.2)"><circle r="17.45" fill="#fff" stroke="#f0911c" stroke-width="4.5"/></g>
<g transform="translate(351.0,662.2)"><circle r="17.45" fill="#fff" stroke="#f0911c" stroke-width="4.5"/></g>
<g transform="translate(345.3,662.2)"><circle r="17.45" fill="#fff" stroke="#f0911c" stroke-width="4.5"/></g>
<g transform="translate(339.5,662.2)"><circle r="17.45" fill="#fff" stroke="#f0911c" stroke-width="4.5"/></g>
<g transform="translate(333.8,662.2)"><circle r="17.45" fill="#fff" stroke="#f0911c" stroke-width="4.5"/></g>
<g transform="translate(328.1,662.2)"><circle r="17.45" fill="#fff" stroke="#f0911c" stroke-width="4.5"/><text transform="translate(0,7.6) scale(0.84,1)" font-size="27.5" font-weight="bold" fill="#f0911c" text-anchor="middle">C</text></g>
<g transform="translate(301.6,662.2)"><circle r="17.45" fill="#fff" stroke="#f0911c" stroke-width="4.5"/></g>
<g transform="translate(295.9,662.2)"><circle r="17.45" fill="#fff" stroke="#f0911c" stroke-width="4.5"/></g>
<g transform="translate(288.2,662.2)"><circle r="17.45" fill="#fff" stroke="#f0911c" stroke-width="4.5"/></g>
<g transform="translate(282.5,662.2)"><circle r="17.45" fill="#fff" stroke="#f0911c" stroke-width="4.5"/><text transform="translate(0,7.6) scale(0.84,1)" font-size="27.5" font-weight="bold" fill="#f0911c" text-anchor="middle">C</text></g>
<g transform="translate(263.2,662.2)"><circle r="17.45" fill="#fff" stroke="#f0911c" stroke-width="4.5"/></g>
<g transform="translate(257.5,662.2)"><circle r="17.45" fill="#fff" stroke="#f0911c" stroke-width="4.5"/><text transform="translate(0,7.6) scale(0.84,1)" font-size="27.5" font-weight="bold" fill="#f0911c" text-anchor="middle">C</text></g>
<g transform="translate(234.2,662.2)"><circle r="17.45" fill="#fff" stroke="#f0911c" stroke-width="4.5"/></g>
<g transform="translate(221.8,662.2)"><circle r="17.45" fill="#fff" stroke="#f0911c" stroke-width="4.5"/></g>
<g transform="translate(216.0,662.2)"><circle r="17.45" fill="#fff" stroke="#f0911c" stroke-width="4.5"/></g>
<g transform="translate(207.2,662.2)"><circle r="17.45" fill="#fff" stroke="#f0911c" stroke-width="4.5"/></g>
<g transform="translate(201.5,662.2)"><circle r="17.45" fill="#fff" stroke="#f0911c" stroke-width="4.5"/><text transform="translate(0,7.6) scale(0.84,1)" font-size="27.5" font-weight="bold" fill="#f0911c" text-anchor="middle">C</text></g>
<g transform="translate(177.9,662.2)"><circle r="17.45" fill="#fff" stroke="#f0911c" stroke-width="4.5"/></g>
<g transform="translate(165.5,662.2)"><circle r="17.45" fill="#fff" stroke="#f0911c" stroke-width="4.5"/></g>
<g transform="translate(160.0,662.2)"><circle r="17.45" fill="#fff" stroke="#f0911c" stroke-width="4.5"/></g>
<g transform="translate(156.5,662.2)"><circle r="17.45" fill="#fff" stroke="#f0911c" stroke-width="4.5"/><text transform="translate(0,7.6) scale(0.84,1)" font-size="27.5" font-weight="bold" fill="#f0911c" text-anchor="middle">C</text></g>
<g transform="translate(130.5,662.2)"><circle r="17.45" fill="#fff" stroke="#f0911c" stroke-width="4.5"/></g>
<g transform="translate(125.5,662.2)"><circle r="17.45" fill="#fff" stroke="#f0911c" stroke-width="4.5"/></g>
<g transform="translate(121.2,662.2)"><circle r="17.45" fill="#fff" stroke="#f0911c" stroke-width="4.5"/></g>
<g transform="translate(109.3,662.2)"><circle r="17.45" fill="#fff" stroke="#f0911c" stroke-width="4.5"/></g>
<g transform="translate(96.8,662.2)"><circle r="17.45" fill="#fff" stroke="#f0911c" stroke-width="4.5"/></g>
<g transform="translate(90.5,662.2)"><circle r="17.45" fill="#fff" stroke="#f0911c" stroke-width="4.5"/></g>
<g transform="translate(86.2,662.2)"><circle r="17.45" fill="#fff" stroke="#f0911c" stroke-width="4.5"/><text transform="translate(0,7.6) scale(0.84,1)" font-size="27.5" font-weight="bold" fill="#f0911c" text-anchor="middle">C</text></g>
</g>
<rect x="75" y="741" width="1845" height="17.5" fill="url(#botshadow)"/>
<rect x="75" y="741" width="40" height="17.5" fill="url(#leftfade)"/>
<text x="181.5" y="741.3" font-size="23.3" fill="#2c303a" font-weight="normal" text-anchor="start" textLength="129" lengthAdjust="spacingAndGlyphs">Feb 25 23:00</text>
<text x="404" y="741.3" font-size="23.3" fill="#2c303a" font-weight="normal" text-anchor="start" textLength="131" lengthAdjust="spacingAndGlyphs">Mar 06 11:00</text>
<text x="628" y="741.3" font-size="23.3" fill="#2c303a" font-weight="normal" text-anchor="start" textLength="131" lengthAdjust="spacingAndGlyphs">Mar 16 22:00</text>
<text x="851" y="741.3" font-size="23.3" fill="#2c303a" font-weight="normal" text-anchor="start" textLength="130.5" lengthAdjust="spacingAndGlyphs">Mar 25 10:00</text>
<text x="1074.5" y="741.3" font-size="23.3" fill="#2c303a" font-weight="normal" text-anchor="start" textLength="128" lengthAdjust="spacingAndGlyphs">Apr 02 22:00</text>
<text x="1299.3" y="741.3" font-size="23.3" fill="#2c303a" font-weight="normal" text-anchor="start" textLength="127.5" lengthAdjust="spacingAndGlyphs">Apr 13 10:00</text>
<text x="1521.7" y="741.3" font-size="23.3" fill="#2c303a" font-weight="normal" text-anchor="start" textLength="127.6" lengthAdjust="spacingAndGlyphs">Apr 21 22:00</text>
<text x="1743.3" y="741.3" font-size="23.3" fill="#2c303a" font-weight="normal" text-anchor="start" textLength="65.7" lengthAdjust="spacingAndGlyphs">Apr 30</text>
<g clip-path="url(#tabout)"><path d="M909.3 758.5 V724.8 a6 6 0 0 1 6 -6 H1078.4 a6 6 0 0 1 6 6 V758.5 Z" fill="#000" fill-opacity="0.13" filter="url(#tabshadow)"/></g>
<path d="M909.3 758.5 V724.8 a6 6 0 0 1 6 -6 H1078.4 a6 6 0 0 1 6 6 V758.5 Z" fill="#fff"  fill-opacity="0.35"/>
<path d="M909.3 758.5 V724.8 a6 6 0 0 1 6 -6 H1078.4 a6 6 0 0 1 6 6 V758.5 Z" fill="#fff" fill-opacity="0.6"/>
<path d="M987.6 735.4 L997.6 743.3 L1007.6 735.4" fill="none" stroke="#4a4e59" stroke-width="2.6" stroke-linecap="round" stroke-linejoin="round"/>
<text x="1825" y="21.8" font-size="23.3" fill="#2c303a" font-weight="normal" text-anchor="start" textLength="78.3" lengthAdjust="spacingAndGlyphs">1.19515</text>
<text x="1825" y="98.8" font-size="23.3" fill="#2c303a" font-weight="normal" text-anchor="start" textLength="78.3" lengthAdjust="spacingAndGlyphs">1.18814</text>
<text x="1825" y="175.8" font-size="23.3" fill="#2c303a" font-weight="normal" text-anchor="start" textLength="78.3" lengthAdjust="spacingAndGlyphs">1.18113</text>
<text x="1825" y="252.8" font-size="23.3" fill="#2c303a" font-weight="normal" text-anchor="start" textLength="78.3" lengthAdjust="spacingAndGlyphs">1.17412</text>
<text x="1825" y="329.8" font-size="23.3" fill="#2c303a" font-weight="normal" text-anchor="start" textLength="78.3" lengthAdjust="spacingAndGlyphs">1.16711</text>
<text x="1825" y="406.8" font-size="23.3" fill="#2c303a" font-weight="normal" text-anchor="start" textLength="78.3" lengthAdjust="spacingAndGlyphs">1.16010</text>
<text x="1825" y="483.8" font-size="23.3" fill="#2c303a" font-weight="normal" text-anchor="start" textLength="78.3" lengthAdjust="spacingAndGlyphs">1.15309</text>
<text x="1825" y="560.8" font-size="23.3" fill="#2c303a" font-weight="normal" text-anchor="start" textLength="78.3" lengthAdjust="spacingAndGlyphs">1.14608</text>
<text x="1825" y="637.8" font-size="23.3" fill="#2c303a" font-weight="normal" text-anchor="start" textLength="78.3" lengthAdjust="spacingAndGlyphs">1.13907</text>
<rect x="1815.7" y="245" width="97.6" height="20.7" rx="5" fill="#7b7e88"/>
<rect x="1815.7" y="220" width="97.6" height="40" rx="5" fill="#179e86"/>
<text x="1825" y="246.7" font-size="23" fill="#fff" font-weight="normal" text-anchor="start" textLength="78.3" lengthAdjust="spacingAndGlyphs">1.17449</text>
<rect x="1815.7" y="285" width="97.6" height="39" rx="5" fill="#f5a623"/>
<text x="1825" y="310.7" font-size="23" fill="#fff" font-weight="normal" text-anchor="start" textLength="78.3" lengthAdjust="spacingAndGlyphs">1.16860</text>
<rect x="1815.7" y="356" width="97.6" height="35" rx="5" fill="#787b86"/>
<text x="1825" y="381.7" font-size="23" fill="#fff" font-weight="normal" text-anchor="start" textLength="78.3" lengthAdjust="spacingAndGlyphs">1.16220</text>
<rect x="1815.7" y="389.3" width="97.6" height="39.7" rx="5" fill="#f23645"/>
<text x="1825" y="416.7" font-size="23" fill="#fff" font-weight="normal" text-anchor="start" textLength="78.3" lengthAdjust="spacingAndGlyphs">1.15901</text>
<circle cx="1819.7" cy="37.8" r="7" fill="#34c759"/>
<circle cx="110" cy="49" r="8.3" fill="#8e939e"/>
<text x="129.2" y="59.3" font-size="32.5" fill="#2b2f3a" font-weight="normal" text-anchor="start" textLength="119.4" lengthAdjust="spacingAndGlyphs">EURUSD,</text>
<text x="258.6" y="59.3" font-size="32.5" fill="#2b2f3a" font-weight="normal" text-anchor="start" textLength="42.1" lengthAdjust="spacingAndGlyphs">H4,</text>
<text x="311.1" y="59.3" font-size="32.5" fill="#2b2f3a" font-weight="normal" text-anchor="start" textLength="151.2" lengthAdjust="spacingAndGlyphs">Unadjusted</text>
<rect x="485.7" y="33.3" width="30" height="30" rx="5" fill="#12d6a6"/>
<text x="490.6" y="55" font-size="17.5" fill="#0e2a25" font-weight="bold" text-anchor="start" textLength="20.4" lengthAdjust="spacingAndGlyphs" stroke="#0e2a25" stroke-width="0.5">FB</text>
<text x="104" y="107.3" font-size="27" fill="#e0544f" font-weight="normal" text-anchor="start" textLength="92.7" lengthAdjust="spacingAndGlyphs">1.16860</text>
<text x="220" y="107.3" font-size="27" fill="#e0544f" font-weight="normal" text-anchor="start" textLength="216.7" lengthAdjust="spacingAndGlyphs">-0.00386 (-0.33%)</text>
<rect x="519" y="2" width="614" height="90" rx="12" fill="#000" fill-opacity="0.26" filter="url(#tbshadow)"/>
<rect x="516" y="-1" width="619.7" height="88.8" rx="12" fill="#fff"/>
<g fill="#9b9b9b">
<circle cx="551.6" cy="31.9" r="2"/>
<circle cx="551.6" cy="44.6" r="2"/>
<circle cx="551.6" cy="57" r="2"/>
<circle cx="568.4" cy="31.9" r="2"/>
<circle cx="568.4" cy="44.6" r="2"/>
<circle cx="568.4" cy="57" r="2"/>
</g>
<g fill="none" stroke="#20242e" stroke-width="2.6" stroke-linecap="round" stroke-linejoin="round">
<line x1="608.6" y1="44.1" x2="643.8" y2="44.1"/>
<line x1="696.5" y1="25" x2="696.5" y2="63.8"/>
<line x1="749.5" y1="30" x2="784.5" y2="30"/>
<line x1="749.5" y1="37" x2="784.5" y2="37"/>
<line x1="749.5" y1="43.8" x2="784.5" y2="43.8"/>
<line x1="749.5" y1="58.4" x2="784.5" y2="58.4"/>
<line x1="752" y1="53.3" x2="782.5" y2="48.2" stroke-dasharray="5.4 3" stroke-linecap="butt"/>
<line x1="818" y1="30.4" x2="857" y2="30.4"/>
<line x1="818" y1="47.5" x2="857" y2="47.5"/>
<line x1="818" y1="58.3" x2="857" y2="58.3"/>
<line x1="822.3" y1="42.8" x2="851.4" y2="34.4" stroke-dasharray="5.4 3" stroke-linecap="butt"/>
<line x1="890.6" y1="61" x2="912" y2="40"/>
<path d="M925.4 26.8 L902.7 33.9 L918.3 49 Z" fill="#20242e" stroke-width="1.2"/>
<line x1="958.8" y1="30.4" x2="997.4" y2="30.4"/>
<line x1="958.8" y1="41.5" x2="997.4" y2="41.5"/>
<line x1="958.8" y1="58.3" x2="997.4" y2="58.3"/>
<line x1="963" y1="46" x2="993" y2="54.3" stroke-dasharray="5.4 3" stroke-linecap="butt"/>
<rect x="1031.5" y="31.1" width="33.8" height="26.4" rx="3"/>
<line x1="1105.2" y1="57.4" x2="1118" y2="45"/>
</g>
<g fill="none" stroke="#20242e" stroke-width="2.6" stroke-linecap="round" stroke-linejoin="round">
<path d="M1565.2 32 L1559.6 38.2 L1564.6 42.6"/>
<path d="M1559.8 38.2 H1571.5 A13.1 13.1 0 0 1 1571.5 64.4 H1567.6"/>
<rect x="1745.2" y="28.5" width="27.2" height="36.5" rx="4.5"/>
<line x1="1754.4" y1="33.9" x2="1763.2" y2="33.9" stroke-width="2.2"/>
</g>
<g fill="none" stroke="#a9abb0" stroke-width="2.6" stroke-linecap="round" stroke-linejoin="round">
<path d="M1667.2 32 L1672.8 38.2 L1667.4 42.6"/>
<path d="M1672.6 38.2 H1661 A13.1 13.1 0 0 0 1661 64.4 H1665"/>
</g>
<rect x="93.3" y="128.3" width="404.4" height="87.4" rx="17" fill="#c3c7cf"/>
<path d="M242.3 127.3 H347.7 V157.7 a5 5 0 0 1 -5 5 H247.3 a5 5 0 0 1 -5 -5 Z" fill="#fff"/>
<rect x="265" y="174.3" width="61" height="30" rx="6" fill="#fff"/>
<text x="111" y="161.7" font-size="22.2" fill="#fff" font-weight="normal" text-anchor="start" textLength="47.3" lengthAdjust="spacingAndGlyphs">SELL</text>
<text x="440" y="161.7" font-size="22.2" fill="#fff" font-weight="normal" text-anchor="start" textLength="39" lengthAdjust="spacingAndGlyphs">BUY</text>
<text x="112.3" y="194.7" font-size="32" fill="#fff" font-weight="bold" text-anchor="start" textLength="116.7" lengthAdjust="spacingAndGlyphs">1.16860</text>
<text x="363.3" y="194.7" font-size="32" fill="#fff" font-weight="bold" text-anchor="start" textLength="115.7" lengthAdjust="spacingAndGlyphs">1.16868</text>
<text x="266.7" y="154.4" font-size="30.2" fill="#c6c8cc" font-weight="normal" text-anchor="start" textLength="55" lengthAdjust="spacingAndGlyphs">0.01</text>
<text x="295" y="196.6" font-size="24" fill="#b4b6ba" font-weight="normal" text-anchor="middle">8</text>
<rect x="0" y="856" width="1920" height="8" fill="#000"/>
<rect x="103.4" y="775.3" width="286.6" height="71.6" rx="13" fill="#08d8ab" stroke="#08d8ab" stroke-width="3.4"/>
<path d="M265.8 777 H377 a11.3 11.3 0 0 1 11.3 11.3 V834.2 a11.3 11.3 0 0 1 -11.3 11.3 H247.3 Z" fill="#fff"/>
<text x="137.6" y="820.8" font-size="32.3" fill="#15302b" font-weight="normal" text-anchor="start" textLength="76.6" lengthAdjust="spacingAndGlyphs" stroke="#15302b" stroke-width="0.6">Trade</text>
<text x="281" y="820.8" font-size="32.3" fill="#1fd0a3" font-weight="normal" text-anchor="start" textLength="74.7" lengthAdjust="spacingAndGlyphs" stroke="#1fd0a3" stroke-width="0.5">Order</text>
<g clip-path="url(#usclip)">
<rect x="804" y="784" width="36" height="36" fill="#fff"/>
<rect x="804" y="784.8" width="36" height="2.65" fill="#d8202f"/>
<rect x="804" y="790.1" width="36" height="2.65" fill="#d8202f"/>
<rect x="804" y="795.4" width="36" height="2.65" fill="#d8202f"/>
<rect x="804" y="800.7" width="36" height="2.65" fill="#d8202f"/>
<rect x="804" y="806.0" width="36" height="2.65" fill="#d8202f"/>
<rect x="804" y="811.3" width="36" height="2.65" fill="#d8202f"/>
<rect x="804" y="816.6" width="36" height="2.65" fill="#d8202f"/>
<rect x="804" y="784" width="17.7" height="18" fill="#2a4fa8"/>
<circle cx="809" cy="791" r="1.1" fill="#fff"/>
<circle cx="814.5" cy="788.5" r="1.1" fill="#fff"/>
<circle cx="819" cy="787" r="1.1" fill="#fff"/>
<circle cx="811" cy="796" r="1.1" fill="#fff"/>
<circle cx="816.5" cy="793.5" r="1.1" fill="#fff"/>
<circle cx="820" cy="792" r="1.1" fill="#fff"/>
<circle cx="813" cy="800" r="1.1" fill="#fff"/>
<circle cx="818.5" cy="798.5" r="1.1" fill="#fff"/>
</g>
<circle cx="805.6" cy="818.3" r="18.4" fill="#fff"/>
<circle cx="805.6" cy="818.3" r="17.4" fill="#1a52b3"/>
<circle cx="805.6" cy="809.5" r="1.05" fill="#d6dc72"/>
<circle cx="810.0" cy="810.7" r="1.05" fill="#d6dc72"/>
<circle cx="813.2" cy="813.9" r="1.05" fill="#d6dc72"/>
<circle cx="814.4" cy="818.3" r="1.05" fill="#d6dc72"/>
<circle cx="813.2" cy="822.7" r="1.05" fill="#d6dc72"/>
<circle cx="810.0" cy="825.9" r="1.05" fill="#d6dc72"/>
<circle cx="805.6" cy="827.1" r="1.05" fill="#d6dc72"/>
<circle cx="801.2" cy="825.9" r="1.05" fill="#d6dc72"/>
<circle cx="798.0" cy="822.7" r="1.05" fill="#d6dc72"/>
<circle cx="796.8" cy="818.3" r="1.05" fill="#d6dc72"/>
<circle cx="798.0" cy="813.9" r="1.05" fill="#d6dc72"/>
<circle cx="801.2" cy="810.7" r="1.05" fill="#d6dc72"/>
<text x="854.3" y="822.4" font-size="34.3" fill="#252933" font-weight="normal" text-anchor="start" textLength="127.8" lengthAdjust="spacingAndGlyphs">EURUSD</text>
<text x="1021.7" y="822.4" font-size="34.3" fill="#252933" font-weight="normal" text-anchor="start" textLength="40.8" lengthAdjust="spacingAndGlyphs">H4</text>
<g fill="none" stroke="#20242e" stroke-width="2.95" stroke-linecap="round" stroke-linejoin="round">
<path d="M1483.9 817.4 L1497.6 795.2 Q1499.4 792.4 1502.1 794.2 L1506.4 797.1 Q1509 798.8 1507.4 801.5 L1495 823 L1486.4 826.8 Z"/>
<path d="M1572.6 795.8 C1568.3 794.2 1565.2 796 1564.2 801 L1560.4 819 C1559.2 824.6 1556.2 828 1550.6 826.4"/>
<line x1="1552.8" y1="806.5" x2="1567.8" y2="806.5"/>
<rect x="1620.8" y="793.9" width="35.9" height="34.1" rx="4"/>
<line x1="1621" y1="810.6" x2="1656.5" y2="810.6"/>
<path d="M1721.6 796.4 C1719.4 794.6 1716.6 793.6 1713.4 793.6 C1705.6 793.6 1699.6 799.6 1699.4 807 L1699 818.6 L1696.2 825.6 H1730.4 L1727.6 819"/>
<path d="M1708.3 827 C1709.3 832.4 1717.6 832.4 1718.6 827"/>
<circle cx="1713.4" cy="791.6" r="1.4" fill="#20242e" stroke-width="1.4"/>
<path d="M1769 817 A20 20 0 1 0 1774.6 800.4"/>
<path d="M1774.4 792 V800.6 H1783"/>
</g>
<g fill="none" stroke="#1fd4a7" stroke-width="2.95" stroke-linecap="round" stroke-linejoin="round">
<path d="M1468.6 807.4 C1470 803.6 1475.6 803.8 1475.6 808.2 C1475.6 811.6 1471.2 813.6 1471.2 818 C1471.2 822.4 1474.4 825.4 1479.2 825.6"/>
<path d="M1573.8 815 V828.8 M1566.9 821.9 H1580.7"/>
<path d="M1629 803.4 C1635 799 1642 804 1648.6 799.6" stroke-width="3"/>
<path d="M1629 821.6 C1635 817 1642 821.6 1648.6 817.2" stroke-width="3"/>
<path d="M1727.5 800 V813.8 M1720.6 806.9 H1734.4"/>
<path d="M1784.3 808.2 V819.8 L1794.2 813.9 Z"/>
</g>
<g stroke-width="4" stroke-linecap="round"><line x1="1849.4" y1="800.3" x2="1876.4" y2="800.3" stroke="#20242e"/><line x1="1849.4" y1="811.5" x2="1876.4" y2="811.5" stroke="#20242e"/><line x1="1849.4" y1="822.8" x2="1876.4" y2="822.8" stroke="#1fd4a7"/></g>
</svg>
</body></html>
